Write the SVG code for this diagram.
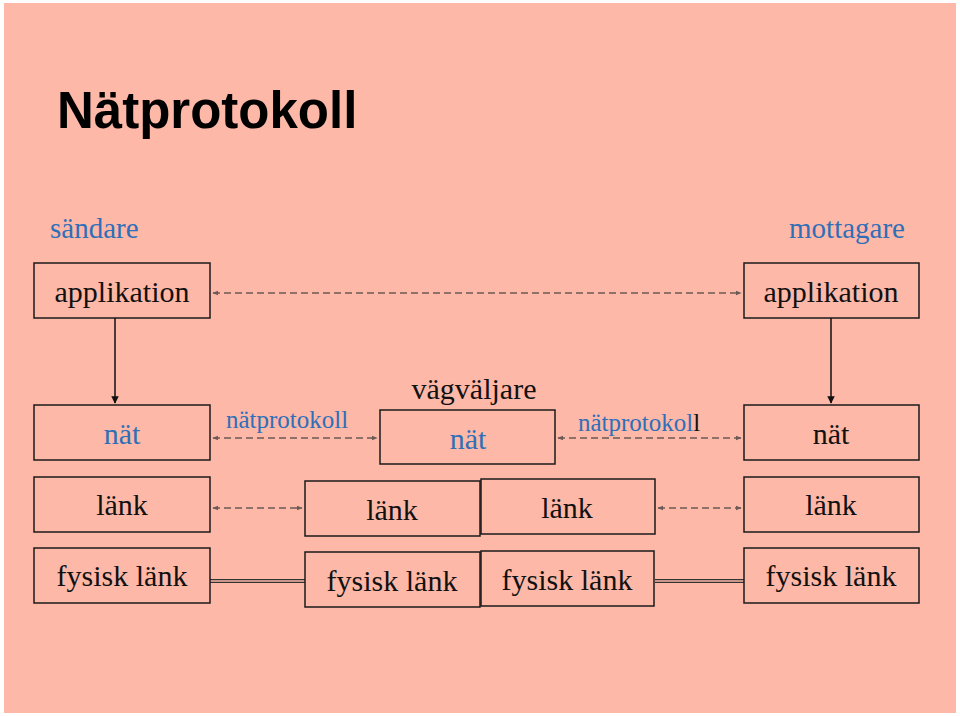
<svg xmlns="http://www.w3.org/2000/svg" width="960" height="716" viewBox="0 0 960 716">
<style>
.s{font-family:"Liberation Serif","Times New Roman","DejaVu Serif",serif}
.b{fill:none;stroke:#1a1a1a;stroke-width:1.5}
.t{font-family:"Liberation Serif","Times New Roman","DejaVu Serif",serif;font-size:30px;fill:#111;text-anchor:middle}
.bl{fill:#2f6fb8}
.d{stroke:#6b5a55;stroke-width:1.5;stroke-dasharray:7,4;fill:none;marker-start:url(#a);marker-end:url(#a)}
.dl{stroke:#333;stroke-width:4;fill:none}
.dl2{stroke:#fdb8a8;stroke-width:1.3;fill:none}
</style>
<defs>
<marker id="a" viewBox="0 0 10 10" refX="9" refY="5" markerWidth="4" markerHeight="4" orient="auto-start-reverse"><path d="M0,1L10,5L0,9z" fill="#6b5a55"/></marker>
<marker id="k" viewBox="0 0 10 10" refX="9" refY="5" markerWidth="5" markerHeight="6" orient="auto"><path d="M0,0L10,5L0,10z" fill="#111"/></marker>
</defs>
<rect width="960" height="716" fill="#fff"/>
<rect x="4" y="3" width="952" height="710" fill="#fdb8a8"/>
<text x="57" y="128" font-family="'Liberation Sans',Arial,sans-serif" font-weight="bold" font-size="51" fill="#000">Nätprotokoll</text>
<text x="50" y="238" class="s bl" font-size="29">sändare</text>
<text x="905" y="238" class="s bl" font-size="29" text-anchor="end">mottagare</text>
<g id="connectors">
<line class="d" x1="213" y1="293" x2="741" y2="293"/>
<line class="d" x1="213" y1="438" x2="377" y2="438"/>
<line class="d" x1="558" y1="438" x2="741" y2="438"/>
<line class="d" x1="213" y1="508" x2="302" y2="508"/>
<line class="d" x1="658" y1="508" x2="741" y2="508"/>
<line x1="115" y1="318" x2="115" y2="403" stroke="#111" stroke-width="1.5" marker-end="url(#k)"/>
<line x1="831" y1="318" x2="831" y2="403" stroke="#111" stroke-width="1.5" marker-end="url(#k)"/>
<line class="dl" x1="210" y1="581" x2="305" y2="581"/><line class="dl2" x1="210" y1="581" x2="305" y2="581"/>
<line class="dl" x1="655" y1="581" x2="744" y2="581"/><line class="dl2" x1="655" y1="581" x2="744" y2="581"/>
</g>
<g id="s-app"><rect class="b" x="34" y="263" width="176" height="55"/><text class="t" x="122" y="302">applikation</text></g>
<g id="s-nat"><rect class="b" x="34" y="405" width="176" height="55"/><text class="t bl" x="122" y="444">nät</text></g>
<g id="s-lank"><rect class="b" x="34" y="477" width="176" height="55"/><text class="t" x="122" y="515">länk</text></g>
<g id="s-fys"><rect class="b" x="34" y="548" width="176" height="55"/><text class="t" x="122" y="586">fysisk länk</text></g>
<g id="r-app"><rect class="b" x="744" y="263" width="175" height="55"/><text class="t" x="831" y="302">applikation</text></g>
<g id="r-nat"><rect class="b" x="744" y="405" width="175" height="55"/><text class="t" x="831" y="444">nät</text></g>
<g id="r-lank"><rect class="b" x="744" y="477" width="175" height="55"/><text class="t" x="831" y="515">länk</text></g>
<g id="r-fys"><rect class="b" x="744" y="548" width="175" height="55"/><text class="t" x="831" y="586">fysisk länk</text></g>
<g id="router"><text class="t" x="474" y="399">vägväljare</text><rect class="b" x="380" y="410" width="175" height="54"/><text class="t bl" x="468" y="449">nät</text></g>
<g id="rl1"><rect class="b" x="305" y="481" width="175" height="55"/><text class="t" x="392" y="520">länk</text></g>
<g id="rl2"><rect class="b" x="481" y="479" width="174" height="55"/><text class="t" x="567" y="518">länk</text></g>
<g id="rf1"><rect class="b" x="305" y="552" width="175" height="55"/><text class="t" x="392" y="591">fysisk länk</text></g>
<g id="rf2"><rect class="b" x="481" y="551" width="173" height="55"/><text class="t" x="567" y="590">fysisk länk</text></g>
<text x="226" y="428" class="s bl" font-size="25">nätprotokoll</text>
<text x="578" y="431" class="s" font-size="25"><tspan class="bl">nätprotokol</tspan><tspan fill="#111">l</tspan></text>
</svg>
